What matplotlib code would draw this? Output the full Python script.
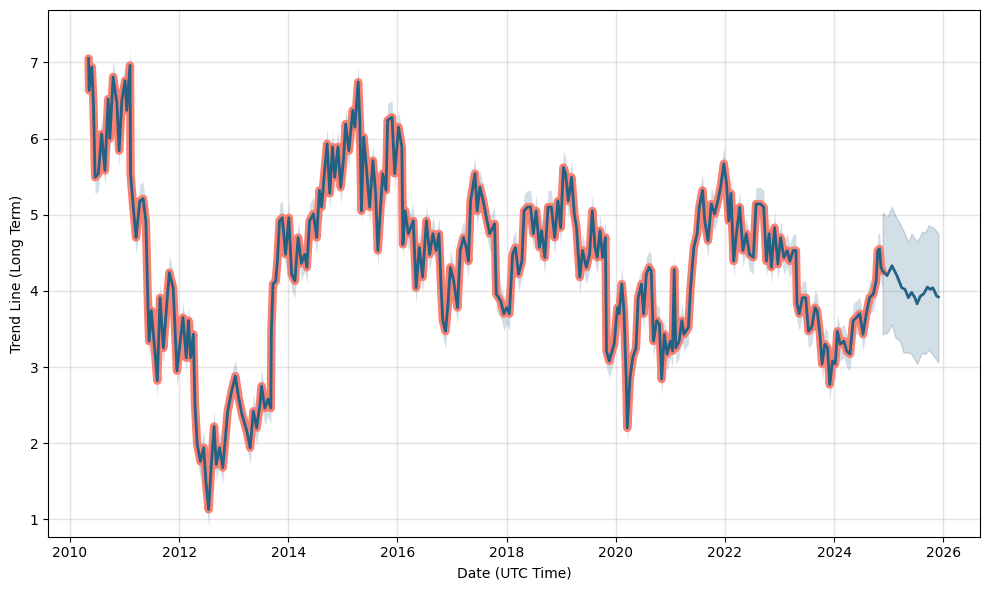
import matplotlib
matplotlib.use("Agg")
import matplotlib.pyplot as plt
import numpy as np

# ---- data (decimal years) ----
hist_t = [2010.34, 2010.35, 2010.40, 2010.43, 2010.46, 2010.52, 2010.58, 2010.64, 2010.70, 2010.73,
          2010.79, 2010.86, 2010.90, 2010.95, 2011.01, 2011.04, 2011.10, 2011.11, 2011.15, 2011.21,
          2011.28, 2011.34, 2011.39, 2011.43, 2011.45, 2011.49, 2011.56, 2011.60, 2011.65, 2011.71,
          2011.76, 2011.82, 2011.89, 2011.96, 2012.02, 2012.07, 2012.13, 2012.17, 2012.21, 2012.26,
          2012.29, 2012.33, 2012.39, 2012.45, 2012.49, 2012.54, 2012.59, 2012.64, 2012.68, 2012.74,
          2012.80, 2012.89, 2012.96, 2013.03, 2013.09, 2013.15, 2013.24, 2013.30, 2013.36, 2013.42,
          2013.48, 2013.51, 2013.57, 2013.63, 2013.68, 2013.69, 2013.72, 2013.77, 2013.80, 2013.84,
          2013.89, 2013.95, 2014.01, 2014.06, 2014.12, 2014.18, 2014.24, 2014.30, 2014.34, 2014.39,
          2014.46, 2014.52, 2014.57, 2014.61, 2014.67, 2014.71, 2014.76, 2014.81, 2014.85, 2014.91,
          2014.96, 2015.01, 2015.05, 2015.11, 2015.18, 2015.22, 2015.28, 2015.31, 2015.34, 2015.38,
          2015.43, 2015.49, 2015.55, 2015.60, 2015.64, 2015.69, 2015.73, 2015.79, 2015.82, 2015.90,
          2015.95, 2016.02, 2016.08, 2016.10, 2016.14, 2016.20, 2016.29, 2016.34, 2016.40, 2016.46,
          2016.53, 2016.59, 2016.65, 2016.71, 2016.76, 2016.80, 2016.83, 2016.88, 2016.92, 2016.97,
          2017.03, 2017.10, 2017.15, 2017.21, 2017.26, 2017.30, 2017.34, 2017.42, 2017.46, 2017.51,
          2017.57, 2017.63, 2017.69, 2017.78, 2017.81, 2017.89, 2017.95, 2018.00, 2018.05, 2018.11,
          2018.16, 2018.22, 2018.28, 2018.32, 2018.38, 2018.44, 2018.49, 2018.54, 2018.60, 2018.64,
          2018.70, 2018.76, 2018.82, 2018.88, 2018.94, 2018.99, 2019.04, 2019.08, 2019.13, 2019.19,
          2019.24, 2019.28, 2019.34, 2019.39, 2019.46, 2019.52, 2019.57, 2019.62, 2019.66, 2019.71,
          2019.76, 2019.81, 2019.83, 2019.88, 2019.93, 2019.97, 2020.03, 2020.06, 2020.11, 2020.15,
          2020.19, 2020.21, 2020.26, 2020.31, 2020.37, 2020.41, 2020.47, 2020.51, 2020.56, 2020.61,
          2020.65, 2020.69, 2020.75, 2020.80, 2020.84, 2020.89, 2020.94, 2021.00, 2021.04, 2021.07,
          2021.10, 2021.16, 2021.21, 2021.25, 2021.33, 2021.37, 2021.43, 2021.49, 2021.53, 2021.59,
          2021.63, 2021.69, 2021.75, 2021.81, 2021.87, 2021.92, 2021.98, 2022.03, 2022.07, 2022.11,
          2022.16, 2022.21, 2022.27, 2022.33, 2022.39, 2022.45, 2022.52, 2022.57, 2022.65, 2022.71,
          2022.76, 2022.81, 2022.85, 2022.91, 2022.97, 2023.02, 2023.08, 2023.14, 2023.19, 2023.25,
          2023.30, 2023.32, 2023.36, 2023.42, 2023.48, 2023.53, 2023.59, 2023.65, 2023.69, 2023.74,
          2023.78, 2023.83, 2023.88, 2023.92, 2023.97, 2024.02, 2024.06, 2024.11, 2024.18, 2024.23,
          2024.29, 2024.35, 2024.41, 2024.47, 2024.53, 2024.59, 2024.65, 2024.72, 2024.77, 2024.80,
          2024.83, 2024.86, 2024.89]
hist_v = [7.05, 6.63, 6.94, 6.46, 5.49, 5.54, 6.06, 5.58, 6.52, 6.00,
          6.81, 6.46, 5.84, 6.50, 6.76, 6.37, 6.96, 5.54, 5.18, 4.70,
          5.18, 5.21, 4.92, 3.78, 3.34, 3.74, 3.17, 2.82, 3.91, 3.25,
          3.70, 4.24, 4.04, 2.95, 3.34, 3.65, 3.12, 3.61, 3.12, 3.43,
          2.51, 1.99, 1.76, 1.94, 1.50, 1.13, 1.72, 2.22, 1.72, 1.94,
          1.68, 2.42, 2.68, 2.88, 2.60, 2.38, 2.16, 1.94, 2.42, 2.20,
          2.51, 2.75, 2.46, 2.58, 2.46, 3.47, 4.09, 4.13, 4.39, 4.92,
          4.96, 4.48, 4.96, 4.22, 4.13, 4.70, 4.36, 4.48, 4.31, 4.92,
          5.01, 4.70, 5.32, 5.10, 5.62, 5.93, 5.28, 5.89, 5.49, 5.89,
          5.36, 5.71, 6.19, 5.84, 6.37, 6.15, 6.74, 6.24, 5.05, 6.02,
          5.62, 5.10, 5.71, 5.28, 4.53, 5.10, 5.54, 5.32, 6.24, 6.28,
          5.54, 6.15, 5.89, 4.61, 5.05, 4.75, 4.92, 4.04, 4.57, 4.18,
          4.92, 4.48, 4.75, 4.53, 4.75, 4.04, 3.61, 3.47, 3.78, 4.31,
          4.13, 3.78, 4.53, 4.70, 4.57, 4.39, 5.18, 5.54, 5.05, 5.36,
          5.18, 4.96, 4.75, 4.88, 3.96, 3.87, 3.70, 3.78, 3.70, 4.48,
          4.57, 4.22, 4.39, 5.05, 5.10, 5.10, 4.75, 5.05, 4.57, 4.79,
          4.44, 5.10, 5.10, 4.70, 5.18, 4.83, 5.62, 5.54, 5.18, 5.49,
          5.01, 4.83, 4.18, 4.53, 4.31, 4.48, 5.05, 4.57, 4.44, 4.79,
          4.44, 4.70, 3.21, 3.08, 3.21, 3.30, 3.78, 3.70, 4.09, 3.74,
          2.86, 2.20, 2.86, 3.12, 3.25, 3.91, 4.09, 3.70, 4.22, 4.31,
          4.26, 3.34, 3.61, 3.56, 2.84, 3.43, 3.17, 3.34, 3.21, 4.28,
          3.25, 3.34, 3.61, 3.43, 3.52, 4.04, 4.57, 4.75, 5.10, 5.32,
          4.92, 4.66, 5.14, 5.01, 5.18, 5.36, 5.67, 5.40, 4.92, 5.28,
          4.39, 4.75, 5.10, 4.53, 4.75, 4.48, 4.44, 5.14, 5.14, 5.10,
          4.39, 4.75, 4.31, 4.83, 4.35, 4.70, 4.44, 4.53, 4.39, 4.53,
          4.53, 3.83, 3.70, 3.91, 3.91, 3.47, 3.52, 3.78, 3.74, 3.43,
          3.04, 3.30, 3.25, 2.77, 3.08, 3.04, 3.47, 3.30, 3.34, 3.21,
          3.17, 3.61, 3.65, 3.70, 3.43, 3.70, 3.91, 3.96, 4.13, 4.53,
          4.55, 4.31, 4.26]

fc_t = [2024.89, 2024.97, 2025.06, 2025.15, 2025.24, 2025.30, 2025.36, 2025.42, 2025.48, 2025.52,
        2025.58, 2025.64, 2025.71, 2025.76, 2025.81, 2025.88, 2025.91]
fc_v = [4.26, 4.20, 4.33, 4.20, 4.04, 4.02, 3.91, 3.98, 3.91, 3.83,
        3.93, 3.96, 4.05, 4.02, 4.04, 3.93, 3.92]

fcb_t = [2024.89, 2024.97, 2025.06, 2025.12, 2025.21, 2025.27, 2025.36, 2025.42, 2025.52, 2025.61,
         2025.67, 2025.73, 2025.82, 2025.91]
fcb_hi = [5.03, 4.96, 5.10, 4.99, 4.88, 4.79, 4.64, 4.75, 4.64, 4.77, 4.77, 4.86, 4.83, 4.75]
fcb_lo = [3.43, 3.45, 3.56, 3.39, 3.34, 3.19, 3.19, 3.17, 3.04, 3.19, 3.17, 3.23, 3.15, 3.06]

band_hw = 0.22  # half-width of the historical uncertainty band

line_col = "#236185"
salmon = "#FA8072"

fig = plt.figure(figsize=(9.89, 5.90), dpi=100)
ax = fig.add_axes([0.0488, 0.0903, 0.9421, 0.8927])

ht = np.array(hist_t)
hv = np.array(hist_v)
ax.fill_between(ht, hv - band_hw, hv + band_hw, color=line_col, alpha=0.2, linewidth=0)
ax.fill_between(fcb_t, fcb_lo, fcb_hi, color=line_col, alpha=0.2)
ax.plot(ht, hv, color=salmon, linewidth=6, solid_capstyle="round", solid_joinstyle="round")
ax.plot(list(hist_t) + fc_t[1:], list(hist_v) + fc_v[1:], color=line_col, linewidth=2)

ax.set_xlim(2009.602, 2026.673)
ax.set_ylim(0.772, 7.687)
ax.set_xticks(range(2010, 2027, 2))
ax.set_xticklabels([str(y) for y in range(2010, 2027, 2)])
ax.grid(True, color="gray", alpha=0.22, linewidth=1)
ax.set_xlabel("Date (UTC Time)")
ax.set_ylabel("Trend Line (Long Term)")
fig.savefig("out.png", dpi=100)
